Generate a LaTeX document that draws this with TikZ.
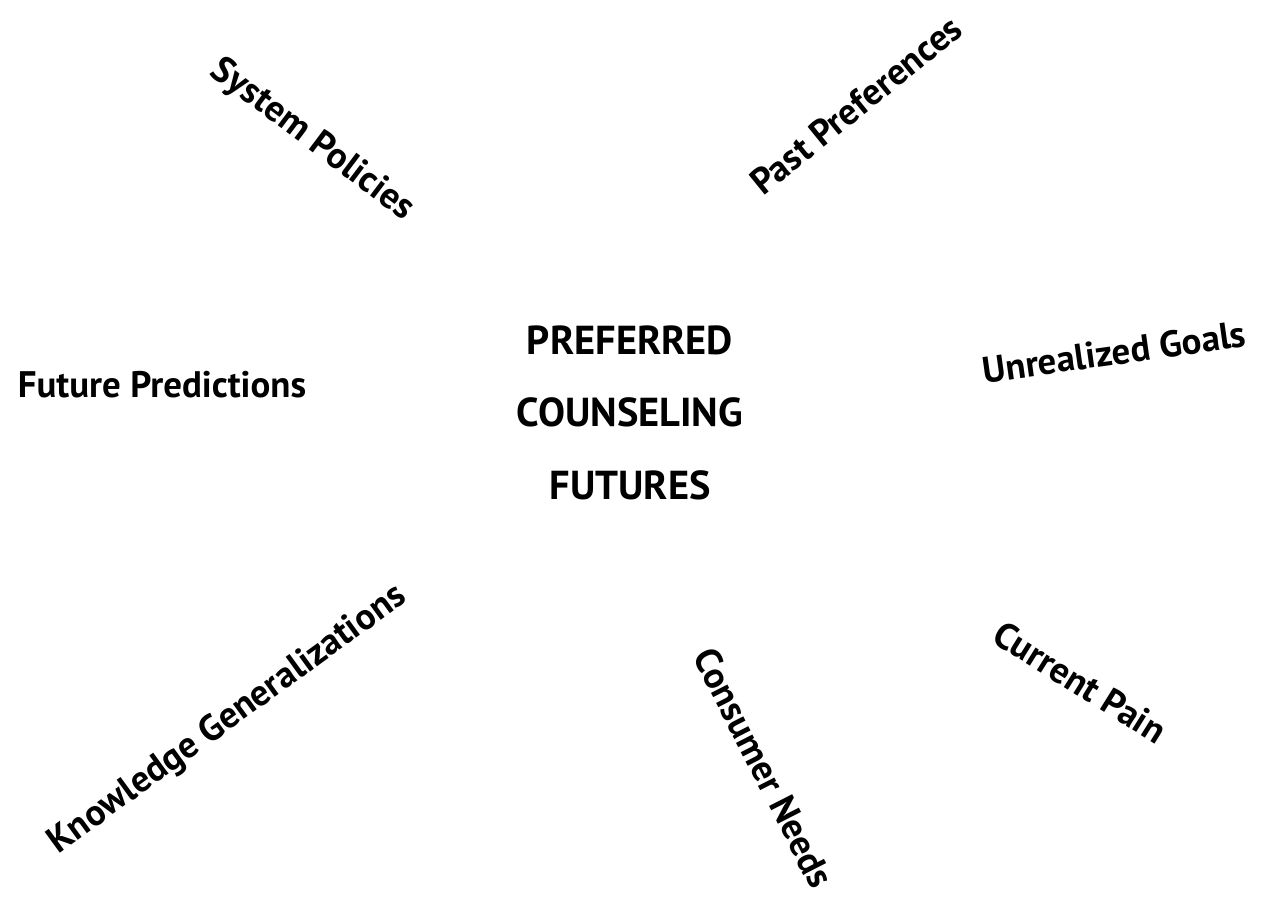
\documentclass[tikz,border=0pt]{standalone}
\usepackage{fontspec}
\setmainfont{PT Sans}
\usepackage{tikz}
\usetikzlibrary{positioning}
\tikzset{
  lbl/.style={inner sep=0pt, font=\fontsize{21}{24}\selectfont\bfseries},
  title/.style={inner sep=0pt, font=\fontsize{23}{26}\selectfont\bfseries}
}

\begin{document}
\begin{tikzpicture}
        % Page frame
        \useasboundingbox (0,0) rectangle (25.4,-18.04);
        % Centre title
        \node[title] (pref) at (12.6,-6.8) {PREFERRED};
        \node[title] (couns) at (12.6,-8.24) {COUNSELING};
        \node[title] (fut) at (12.6,-9.7) {FUTURES};
        % Labels round the title
        \node[lbl, rotate=-37] (syspol) at (6.24,-2.8) {System Policies};
        \node[lbl, rotate=39] (pastpref) at (17.12,-2.1) {Past Preferences};
        \node[lbl, rotate=8] (unreal) at (22.28,-7.04) {Unrealized Goals};
        \node[lbl] (futpred) at (3.24,-7.7) {Future Predictions};
        \node[lbl, rotate=36] (knowgen) at (4.56,-14.4) {Knowledge Generalizations};
        \node[lbl, rotate=-63] (consneed) at (15.28,-15.36) {Consumer Needs};
        \node[lbl, rotate=-32] (curpain) at (21.6,-13.64) {Current Pain};
    \end{tikzpicture}
\end{document}
